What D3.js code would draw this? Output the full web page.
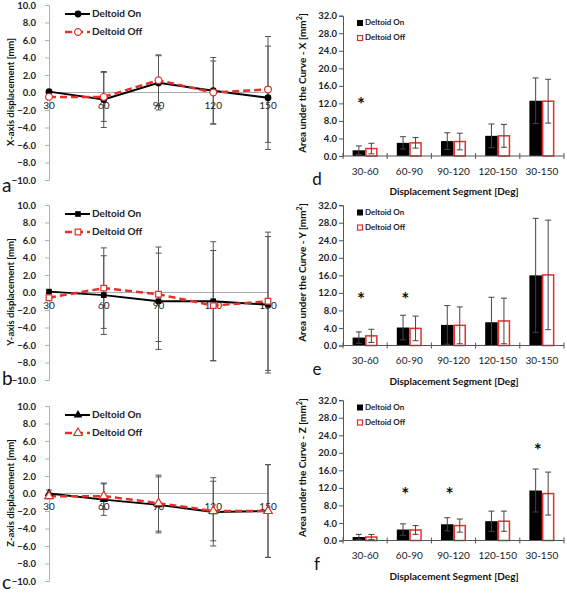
<!DOCTYPE html>
<html><head><meta charset="utf-8">
<script src="https://cdn.jsdelivr.net/npm/d3@7"></script>
<style>body{margin:0;background:#fff}svg{display:block}text{font-family:Lato,"Open Sans",sans-serif}</style>
</head><body>
<svg id="c" width="567" height="593"></svg>
<script>
// ---- data ----
const degrees = [30, 60, 90, 120, 150];
const xOn = [0.1, -0.8, 1.1, 0.2, -0.6];
const xOnErr = [0, 3.2, 3.1, 3.8, 5.9];
const xOff = [-0.5, -0.5, 1.4, 0.0, 0.35];
const xOffErr = [0, 2.8, 2.9, 3.6, 6.05];
const yOn = [0.1, -0.3, -1.0, -1.0, -1.4];
const yOnErr = [0, 4.5, 5.5, 6.8, 7.8];
const yOff = [-0.6, 0.5, -0.2, -1.5, -1.0];
const yOffErr = [0, 4.6, 5.4, 6.3, 7.9];
const zOn = [0.0, -0.7, -1.3, -2.1, -2.0];
const zOnErr = [0.4, 1.8, 3.2, 3.9, 5.3];
const zOff = [-0.3, -0.3, -1.1, -2.0, -2.0];
const zOffErr = [0.3, 1.5, 3.2, 3.4, 5.3];
const dispTicks = [10, 8, 6, 4, 2, 0, -2, -4, -6, -8, -10];

const segments = ["30-60", "60-90", "90-120", "120-150", "30-150"];
const dOn = [1.3, 3.0, 3.4, 4.6, 12.6];
const dOnErr = [1.0, 1.4, 1.9, 2.7, 5.2];
const dOff = [1.7, 3.0, 3.3, 4.6, 12.5];
const dOffErr = [1.2, 1.2, 1.9, 2.6, 5.0];
const eOn = [1.8, 4.1, 4.7, 5.3, 16.0];
const eOnErr = [1.3, 2.8, 4.4, 5.7, 13.0];
const eOff = [2.2, 3.9, 4.6, 5.6, 16.1];
const eOffErr = [1.5, 2.8, 4.2, 5.2, 12.5];
const fOn = [0.8, 2.5, 3.7, 4.4, 11.4];
const fOnErr = [0.6, 1.3, 1.5, 2.3, 4.9];
const fOff = [0.8, 2.4, 3.4, 4.4, 10.7];
const fOffErr = [0.6, 1.0, 1.5, 2.3, 4.9];
const areaTicks = [0, 4, 8, 12, 16, 20, 24, 28, 32];
const starsD = [["30-60", 12.4]];
const starsE = [["30-60", 11.1], ["60-90", 11.1]];
const starsF = [["60-90", 11.0], ["90-120", 11.0], ["30-150", 21.1]];

const RED = "#e4302b";
const svg = d3.select("#c");
svg.append("rect").attr("width", 567).attr("height", 593).attr("fill", "#fff");

// ---- line panels ----
function linePanel(top, on, onErr, off, offErr, title, letter, letterY, marker) {
  const g = svg.append("g");
  const x = d3.scaleLinear().domain([30, 150]).range([49, 268]);
  const y = d3.scaleLinear().domain([-10, 10]).range([top + 180, top + 5]);
  const ax = g.append("g").attr("transform", "translate(49,0)")
    .call(d3.axisLeft(y).tickValues(dispTicks).tickSize(4).tickFormat(d3.format(".1f")));
  ax.select(".domain").attr("stroke", "#b0b0b0");
  ax.selectAll(".tick line").attr("stroke", "#b0b0b0");
  ax.selectAll("text").attr("x", -13).attr("font-size", 9.5).attr("font-weight", "bold").attr("fill", "#222");
  g.append("line").attr("x1", x(30)).attr("x2", x(150)).attr("y1", y(0)).attr("y2", y(0))
    .attr("stroke", "#aaa").attr("stroke-width", 1);
  [[on, onErr], [off, offErr]].forEach(([v, e]) => {
    degrees.forEach((d, i) => {
      if (!e[i]) return;
      const cx = x(d), y1 = y(v[i] + e[i]), y2 = y(v[i] - e[i]);
      g.append("line").attr("x1", cx).attr("x2", cx).attr("y1", y1).attr("y2", y2).attr("stroke", "#555").attr("stroke-width", 1);
      [y1, y2].forEach(yy => g.append("line").attr("x1", cx - 3).attr("x2", cx + 3).attr("y1", yy).attr("y2", yy).attr("stroke", "#555").attr("stroke-width", 1));
    });
  });
  g.selectAll(".xl").data(degrees).join("text").attr("x", d => x(d)).attr("y", y(0) + 14)
    .attr("text-anchor", "middle").attr("dominant-baseline", "middle")
    .attr("font-size", 10).attr("fill", "#222").text(d => d);
  const line = d3.line().x((d, i) => x(degrees[i])).y(d => y(d));
  g.append("path").datum(on).attr("d", line).attr("fill", "none").attr("stroke", "#000").attr("stroke-width", 2);
  g.append("path").datum(off).attr("d", line).attr("fill", "none").attr("stroke", RED).attr("stroke-width", 2.5).attr("stroke-dasharray", "7,4");
  const sym = d3.symbol().type(marker).size(marker === d3.symbolCircle ? 36 : 32);
  g.selectAll(".mon").data(on).join("path").attr("transform", (d, i) => `translate(${x(degrees[i])},${y(d)})`)
    .attr("d", sym).attr("fill", "#000");
  g.selectAll(".moff").data(off).join("path").attr("transform", (d, i) => `translate(${x(degrees[i])},${y(d)})`)
    .attr("d", sym).attr("fill", "#fff").attr("stroke", RED).attr("stroke-width", 1.2);
  const ly = [top + 14, top + 32];
  g.append("line").attr("x1", 65).attr("x2", 90).attr("y1", ly[0]).attr("y2", ly[0]).attr("stroke", "#000").attr("stroke-width", 2);
  g.append("path").attr("transform", `translate(78,${ly[0]})`).attr("d", sym).attr("fill", "#000");
  g.append("line").attr("x1", 65).attr("x2", 90).attr("y1", ly[1]).attr("y2", ly[1]).attr("stroke", RED).attr("stroke-width", 2.5).attr("stroke-dasharray", "7,4");
  g.append("path").attr("transform", `translate(78,${ly[1]})`).attr("d", sym).attr("fill", "#fff").attr("stroke", RED).attr("stroke-width", 1.2);
  ["Deltoid On", "Deltoid Off"].forEach((t, i) => g.append("text").attr("x", 92).attr("y", ly[i])
    .attr("dominant-baseline", "middle").attr("font-size", 10).attr("font-weight", "bold").attr("fill", "#222").text(t));
  g.append("text").attr("transform", `translate(14,${top + 92}) rotate(-90)`).attr("text-anchor", "middle")
    .attr("font-size", 9.5).attr("font-weight", "bold").attr("fill", "#111").text(title);
  g.append("text").attr("x", 2).attr("y", letterY).attr("font-size", 19).attr("fill", "#111").text(letter);
}
linePanel(0, xOn, xOnErr, xOff, xOffErr, "X-axis displacement [mm]", "a", 192, d3.symbolCircle);
linePanel(200, yOn, yOnErr, yOff, yOffErr, "Y-axis displacement [mm]", "b", 385, d3.symbolSquare);
linePanel(401, zOn, zOnErr, zOff, zOffErr, "Z-axis displacement [mm]", "c", 589, d3.symbolTriangle);

// ---- bar panels ----
function barPanel(top, on, onErr, off, offErr, stars, title, letter) {
  const g = svg.append("g");
  const x = d3.scaleBand().domain(segments).range([343, 564]);
  const y = d3.scaleLinear().domain([0, 32]).range([top + 156, top + 15.7]);
  const bw = 12.5;
  g.selectAll(".bon").data(on).join("rect").attr("x", (d, i) => x(segments[i]) + x.bandwidth() / 2 - bw)
    .attr("y", d => y(d)).attr("width", bw).attr("height", d => y(0) - y(d)).attr("fill", "#000");
  g.selectAll(".boff").data(off).join("rect").attr("x", (d, i) => x(segments[i]) + x.bandwidth() / 2 + 0.75)
    .attr("y", d => y(d)).attr("width", bw - 1.5).attr("height", d => y(0) - y(d))
    .attr("fill", "#fff").attr("stroke", RED).attr("stroke-width", 1.5);
  [[on, onErr, -bw / 2], [off, offErr, bw / 2]].forEach(([v, e, dx]) => {
    segments.forEach((s, i) => {
      const cx = x(s) + x.bandwidth() / 2 + dx, y1 = y(v[i] + e[i]), y2 = y(Math.max(0, v[i] - e[i]));
      g.append("line").attr("x1", cx).attr("x2", cx).attr("y1", y1).attr("y2", y2).attr("stroke", "#444").attr("stroke-width", 1);
      [y1, y2].forEach(yy => g.append("line").attr("x1", cx - 3).attr("x2", cx + 3).attr("y1", yy).attr("y2", yy).attr("stroke", "#444").attr("stroke-width", 1));
    });
  });
  const ax = g.append("g").attr("transform", "translate(343,0)")
    .call(d3.axisLeft(y).tickValues(areaTicks).tickSize(4).tickFormat(d3.format(".1f")));
  ax.select(".domain").attr("stroke", "#555");
  ax.selectAll(".tick line").attr("stroke", "#555");
  ax.selectAll("text").attr("x", -6).attr("font-size", 9.5).attr("font-weight", "bold").attr("fill", "#222");
  g.append("line").attr("x1", 343).attr("x2", 564).attr("y1", y(0)).attr("y2", y(0)).attr("stroke", "#555");
  const bounds = segments.map(s => x(s)).concat([x.range()[1]]);
  g.selectAll(".xt").data(bounds).join("line").attr("x1", d => d).attr("x2", d => d)
    .attr("y1", y(0) - 3).attr("y2", y(0) + 3).attr("stroke", "#555");
  g.selectAll(".xl").data(segments).join("text").attr("x", d => x(d) + x.bandwidth() / 2).attr("y", y(0) + 16)
    .attr("text-anchor", "middle").attr("dominant-baseline", "middle").attr("font-size", 10).attr("fill", "#222").text(d => d);
  g.append("text").attr("x", 454).attr("y", top + 195).attr("text-anchor", "middle").attr("font-size", 10)
    .attr("font-weight", "bold").attr("fill", "#111").text("Displacement Segment [Deg]");
  g.append("text").attr("x", 317).attr("y", top + 185).attr("text-anchor", "middle").attr("font-size", 17).attr("fill", "#111").text(letter);
  g.selectAll(".st").data(stars).join("text").attr("x", d => x(d[0]) + x.bandwidth() / 2 - 4).attr("y", d => y(d[1]) + 9)
    .attr("text-anchor", "middle").attr("font-size", 19).attr("font-weight", "bold").attr("fill", "#111").text("*");
  const ly = [top + 23, top + 38];
  g.append("rect").attr("x", 357).attr("y", ly[0] - 3).attr("width", 6).attr("height", 6).attr("fill", "#000");
  g.append("rect").attr("x", 357.5).attr("y", ly[1] - 2.5).attr("width", 5).attr("height", 5).attr("fill", "#fff").attr("stroke", RED).attr("stroke-width", 1.2);
  ["Deltoid On", "Deltoid Off"].forEach((t, i) => g.append("text").attr("x", 365).attr("y", ly[i])
    .attr("dominant-baseline", "middle").attr("font-size", 8).attr("font-weight", "bold").attr("fill", "#222").text(t));
  const tt = g.append("text").attr("transform", `translate(306,${top + 83}) rotate(-90)`).attr("text-anchor", "middle")
    .attr("font-size", 10).attr("font-weight", "bold").attr("fill", "#111");
  tt.append("tspan").text(title + " [mm");
  tt.append("tspan").attr("font-size", 7).attr("dy", -4).text("2");
  tt.append("tspan").attr("dy", 4).text("]");
}
barPanel(0, dOn, dOnErr, dOff, dOffErr, starsD, "Area under the Curve - X", "d");
barPanel(189.5, eOn, eOnErr, eOff, eOffErr, starsE, "Area under the Curve - Y", "e");
barPanel(384.5, fOn, fOnErr, fOff, fOffErr, starsF, "Area under the Curve - Z", "f");
</script>
</body></html>
